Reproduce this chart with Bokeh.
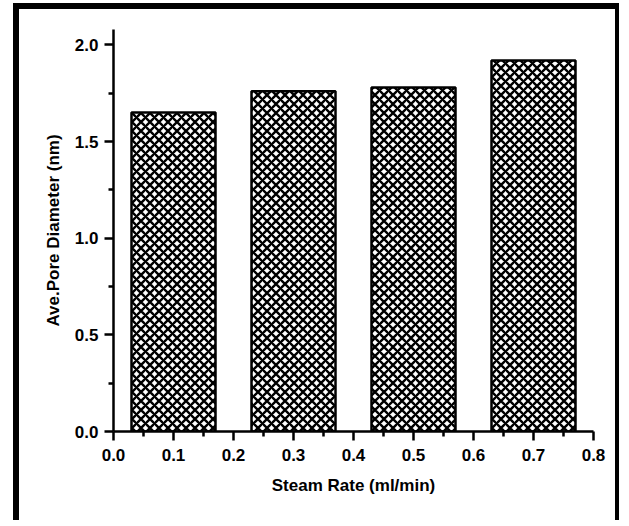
from bokeh.plotting import figure
from bokeh.models import Range1d, FixedTicker, NumeralTickFormatter
from bokeh.embed import file_html
from bokeh.resources import INLINE

# data
steam_rate = [0.1, 0.3, 0.5, 0.7]
pore_diameter = [1.65, 1.76, 1.78, 1.92]
x_ticks = [0.0, 0.1, 0.2, 0.3, 0.4, 0.5, 0.6, 0.7, 0.8]
x_minor = [0.05, 0.15, 0.25, 0.35, 0.45, 0.55, 0.65, 0.75]
y_ticks = [0.0, 0.5, 1.0, 1.5, 2.0]
y_minor = [0.25, 0.75, 1.25, 1.75]

FONT = "Liberation Sans"

p = figure(width=606, height=517, output_backend="svg", toolbar_location=None,
           x_range=Range1d(0, 0.8), y_range=Range1d(0, 2.08),
           min_border_left=94, min_border_right=32, min_border_top=20,
           min_border_bottom=95,
           styles={"position": "absolute", "left": "13px", "top": "3px",
                   "border-left": "6px solid black", "border-top": "6px solid black",
                   "border-right": "4px solid black"})

p.vbar(x=steam_rate, top=pore_diameter, width=0.14, bottom=0,
       fill_color="white", line_color="black", line_width=2.5,
       hatch_pattern="diagonal_cross", hatch_scale=9, hatch_weight=2.4,
       hatch_color="black")

p.outline_line_color = None
p.grid.visible = False

p.xaxis.ticker = FixedTicker(ticks=x_ticks, minor_ticks=x_minor)
p.yaxis.ticker = FixedTicker(ticks=y_ticks, minor_ticks=y_minor)
p.xaxis.formatter = NumeralTickFormatter(format="0.0")
p.yaxis.formatter = NumeralTickFormatter(format="0.0")

p.xaxis.axis_label = "Steam Rate (ml/min)"
p.yaxis.axis_label = "Ave.Pore Diameter (nm)"

for ax in (p.xaxis[0], p.yaxis[0]):
    ax.axis_line_width = 2.5
    ax.axis_line_color = "black"
    ax.major_tick_line_width = 2.5
    ax.minor_tick_line_width = 2.5
    ax.major_tick_line_color = "black"
    ax.minor_tick_line_color = "black"
    ax.major_tick_in = 0
    ax.major_tick_out = 9
    ax.minor_tick_in = 0
    ax.minor_tick_out = 5
    ax.major_label_text_font = FONT
    ax.major_label_text_font_style = "bold"
    ax.major_label_text_font_size = "17px"
    ax.major_label_text_color = "black"
    ax.axis_label_text_font = FONT
    ax.axis_label_text_font_style = "bold"
    ax.axis_label_text_font_size = "17px"
    ax.axis_label_text_color = "black"

p.xaxis.major_label_standoff = 8
p.yaxis.major_label_standoff = 6
p.xaxis.axis_label_standoff = 12
p.yaxis.axis_label_standoff = 9

open("out.html", "w").write(file_html(p, INLINE))
